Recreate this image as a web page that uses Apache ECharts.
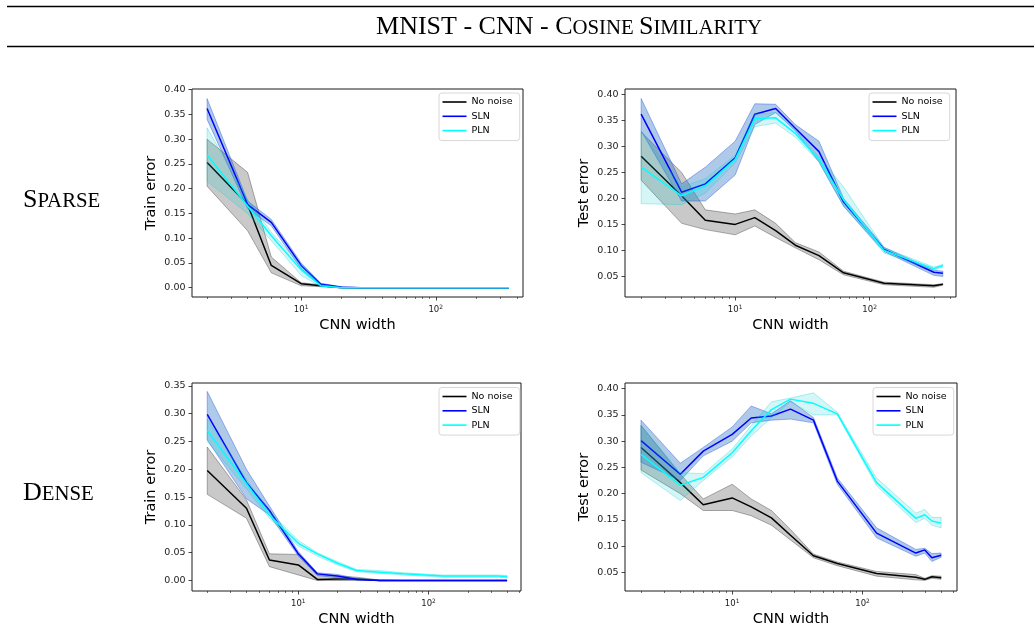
<!DOCTYPE html>
<html>
<head>
<meta charset="utf-8">
<script src="https://cdn.jsdelivr.net/npm/echarts@6/dist/echarts.min.js"></script>
<style>
  html, body { margin: 0; padding: 0; background: #fff; }
  #chart { width: 1034px; height: 643px; }
</style>
</head>
<body>
<div id="chart"></div>
<script>
// ---- CNN widths (x values) ----
const widthsSparse = [2, 4, 6, 10, 14, 20, 28, 42, 64, 128, 300, 350];
const widthsDense  = [2, 4, 6, 10, 14, 20, 28, 42, 64, 128, 256, 300, 340, 400];

// ---- tick values ----
const xMajorTicks = [10, 100];
const xMinorTicks = [2, 3, 4, 5, 6, 7, 8, 9, 20, 30, 40, 50, 60, 70, 80, 90, 200, 300, 400, 500];
const yTicksTrainSparse = [0.00, 0.05, 0.10, 0.15, 0.20, 0.25, 0.30, 0.35, 0.40];
const yTicksTestSparse  = [0.05, 0.10, 0.15, 0.20, 0.25, 0.30, 0.35, 0.40];
const yTicksTrainDense  = [0.00, 0.05, 0.10, 0.15, 0.20, 0.25, 0.30, 0.35];
const yTicksTestDense   = [0.05, 0.10, 0.15, 0.20, 0.25, 0.30, 0.35, 0.40];

// ---- Sparse / train error ----
const trainSparseNone   = [0.253, 0.168, 0.045, 0.008, 0.004, 0.000, 0, 0, 0, 0, 0, 0];
const trainSparseNoneLo = [0.205, 0.115, 0.030, 0.004, 0.002, 0.000, 0, 0, 0, 0, 0, 0];
const trainSparseNoneHi = [0.300, 0.233, 0.062, 0.010, 0.006, 0.001, 0, 0, 0, 0, 0, 0];
const trainSparseSln    = [0.362, 0.168, 0.132, 0.045, 0.007, 0.001, 0, 0, 0, 0, 0, 0];
const trainSparseSlnLo  = [0.340, 0.160, 0.125, 0.038, 0.004, 0.000, 0, 0, 0, 0, 0, 0];
const trainSparseSlnHi  = [0.382, 0.175, 0.138, 0.050, 0.009, 0.002, 0, 0, 0, 0, 0, 0];
const trainSparsePln    = [0.268, 0.165, 0.105, 0.036, 0.004, 0.000, 0, 0, 0, 0, 0, 0];
const trainSparsePlnLo  = [0.215, 0.150, 0.095, 0.025, 0.002, 0.000, 0, 0, 0, 0, 0, 0];
const trainSparsePlnHi  = [0.323, 0.178, 0.112, 0.045, 0.006, 0.001, 0, 0, 0, 0, 0, 0];

// ---- Sparse / test error ----
const testSparseNone   = [0.281, 0.205, 0.158, 0.150, 0.163, 0.138, 0.110, 0.090, 0.057, 0.037, 0.032, 0.035];
const testSparseNoneLo = [0.235, 0.152, 0.140, 0.130, 0.147, 0.125, 0.105, 0.082, 0.053, 0.034, 0.029, 0.033];
const testSparseNoneHi = [0.328, 0.250, 0.178, 0.170, 0.178, 0.152, 0.115, 0.097, 0.060, 0.039, 0.034, 0.036];
const testSparseSln    = [0.362, 0.212, 0.228, 0.278, 0.362, 0.373, 0.335, 0.290, 0.193, 0.102, 0.058, 0.056];
const testSparseSlnLo  = [0.330, 0.195, 0.195, 0.245, 0.342, 0.365, 0.330, 0.270, 0.185, 0.098, 0.052, 0.050];
const testSparseSlnHi  = [0.392, 0.228, 0.260, 0.310, 0.382, 0.381, 0.342, 0.310, 0.200, 0.106, 0.062, 0.060];
const testSparsePln    = [0.260, 0.205, 0.224, 0.275, 0.353, 0.355, 0.325, 0.275, 0.197, 0.100, 0.065, 0.071];
const testSparsePlnLo  = [0.190, 0.188, 0.210, 0.268, 0.338, 0.345, 0.318, 0.270, 0.185, 0.095, 0.062, 0.068];
const testSparsePlnHi  = [0.330, 0.222, 0.238, 0.283, 0.362, 0.365, 0.332, 0.280, 0.222, 0.105, 0.068, 0.073];

// ---- Dense / train error ----
const trainDenseNone   = [0.198, 0.130, 0.037, 0.028, 0.002, 0.003, 0.003, 0.000, 0, 0, 0, 0, 0, 0];
const trainDenseNoneLo = [0.155, 0.112, 0.025, 0.010, 0.000, 0.000, 0.000, 0.000, 0, 0, 0, 0, 0, 0];
const trainDenseNoneHi = [0.240, 0.145, 0.048, 0.047, 0.012, 0.008, 0.006, 0.001, 0, 0, 0, 0, 0, 0];
const trainDenseSln    = [0.299, 0.176, 0.126, 0.048, 0.012, 0.008, 0.002, 0.000, 0, 0, 0, 0, 0, 0];
const trainDenseSlnLo  = [0.253, 0.147, 0.118, 0.044, 0.009, 0.005, 0.001, 0.000, 0, 0, 0, 0, 0, 0];
const trainDenseSlnHi  = [0.340, 0.200, 0.134, 0.052, 0.014, 0.011, 0.004, 0.001, 0, 0, 0, 0, 0, 0];
const trainDensePln    = [0.270, 0.174, 0.118, 0.067, 0.048, 0.031, 0.018, 0.015, 0.012, 0.008, 0.008, 0.008, 0.008, 0.007];
const trainDensePlnLo  = [0.250, 0.165, 0.112, 0.062, 0.044, 0.028, 0.016, 0.013, 0.010, 0.006, 0.006, 0.006, 0.006, 0.005];
const trainDensePlnHi  = [0.290, 0.182, 0.124, 0.072, 0.050, 0.034, 0.020, 0.018, 0.014, 0.010, 0.010, 0.010, 0.010, 0.009];

// ---- Dense / test error ----
const testDenseNone   = [0.288, 0.221, 0.179, 0.192, 0.175, 0.154, 0.121, 0.082, 0.067, 0.048, 0.041, 0.037, 0.042, 0.040];
const testDenseNoneLo = [0.245, 0.200, 0.168, 0.168, 0.158, 0.140, 0.112, 0.078, 0.063, 0.043, 0.036, 0.035, 0.039, 0.037];
const testDenseNoneHi = [0.330, 0.237, 0.190, 0.218, 0.190, 0.168, 0.132, 0.085, 0.070, 0.052, 0.046, 0.039, 0.044, 0.043];
const testDenseSln    = [0.301, 0.237, 0.281, 0.313, 0.344, 0.348, 0.361, 0.340, 0.224, 0.125, 0.087, 0.093, 0.078, 0.083];
const testDenseSlnLo  = [0.260, 0.225, 0.272, 0.300, 0.335, 0.340, 0.342, 0.335, 0.218, 0.116, 0.081, 0.087, 0.071, 0.079];
const testDenseSlnHi  = [0.340, 0.258, 0.288, 0.327, 0.367, 0.352, 0.377, 0.345, 0.230, 0.135, 0.094, 0.096, 0.086, 0.087];
const testDensePln    = [0.275, 0.216, 0.231, 0.278, 0.320, 0.360, 0.380, 0.372, 0.352, 0.221, 0.153, 0.160, 0.148, 0.144];
const testDensePlnLo  = [0.240, 0.187, 0.225, 0.270, 0.310, 0.345, 0.375, 0.350, 0.350, 0.215, 0.145, 0.153, 0.140, 0.135];
const testDensePlnHi  = [0.330, 0.240, 0.238, 0.285, 0.330, 0.375, 0.382, 0.392, 0.355, 0.230, 0.163, 0.170, 0.155, 0.155];

// ---- styling per method ----
const methods = [
  { key: 'none', name: 'No noise', color: '#000000', edge: 'rgba(0,0,0,0.38)',     fill: 'rgba(0,0,0,0.21)' },
  { key: 'sln',  name: 'SLN',      color: '#0000ff', edge: 'rgba(40,90,225,0.55)', fill: 'rgba(45,115,195,0.38)' },
  { key: 'pln',  name: 'PLN',      color: '#00ffff', edge: 'rgba(0,205,215,0.38)', fill: 'rgba(0,200,210,0.17)' }
];

const panels = [
  { grid: { left: 192, top: 89, width: 331, height: 208 }, xr: [0.189, 2.648], yr: [-0.0188, 0.4014],
    yTicks: yTicksTrainSparse, yName: 'Train error', xs: widthsSparse, legend: { left: 439, top: 93 },
    series: { none: [trainSparseNone, trainSparseNoneLo, trainSparseNoneHi],
              sln:  [trainSparseSln,  trainSparseSlnLo,  trainSparseSlnHi],
              pln:  [trainSparsePln,  trainSparsePlnLo,  trainSparsePlnHi] } },
  { grid: { left: 625, top: 89, width: 331, height: 208 }, xr: [0.181, 2.642], yr: [0.0104, 0.4104],
    yTicks: yTicksTestSparse, yName: 'Test error', xs: widthsSparse, legend: { left: 869, top: 93 },
    series: { none: [testSparseNone, testSparseNoneLo, testSparseNoneHi],
              sln:  [testSparseSln,  testSparseSlnLo,  testSparseSlnHi],
              pln:  [testSparsePln,  testSparsePlnLo,  testSparsePlnHi] } },
  { grid: { left: 192, top: 383, width: 329, height: 208 }, xr: [0.184, 2.709], yr: [-0.0188, 0.3552],
    yTicks: yTicksTrainDense, yName: 'Train error', xs: widthsDense, legend: { left: 439, top: 387.5 },
    series: { none: [trainDenseNone, trainDenseNoneLo, trainDenseNoneHi],
              sln:  [trainDenseSln,  trainDenseSlnLo,  trainDenseSlnHi],
              pln:  [trainDensePln,  trainDensePlnLo,  trainDensePlnHi] } },
  { grid: { left: 625, top: 383, width: 332, height: 208 }, xr: [0.178, 2.724], yr: [0.0148, 0.4107],
    yTicks: yTicksTestDense, yName: 'Test error', xs: widthsDense, legend: { left: 873, top: 387.5 },
    series: { none: [testDenseNone, testDenseNoneLo, testDenseNoneHi],
              sln:  [testDenseSln,  testDenseSlnLo,  testDenseSlnHi],
              pln:  [testDensePln,  testDensePlnLo,  testDensePlnHi] } }
];

const AXIS_FONT = 'DejaVu Sans';
const SERIF = 'Liberation Serif';
const INK = '#1a1a1a';

// Spread band: one closed polygon (upper edge forward, lower edge back) in data coordinates
function bandRenderer(xs, lo, hi, fill, edge) {
  return function (params, api) {
    if (params.dataIndexInside !== 0) return null;
    const pts = [];
    for (let i = 0; i < xs.length; i++) pts.push(api.coord([xs[i], hi[i]]));
    for (let i = xs.length - 1; i >= 0; i--) pts.push(api.coord([xs[i], lo[i]]));
    return {
      type: 'polygon',
      shape: { points: pts },
      style: { fill: fill, stroke: edge, lineWidth: 0.8 },
      silent: true
    };
  };
}

const grids = [], xAxes = [], yAxes = [], series = [], legends = [];

panels.forEach(function (p, g) {
  grids.push(Object.assign({ show: true, borderColor: INK, borderWidth: 1, backgroundColor: 'transparent' }, p.grid));

  // data axis (logarithmic)
  xAxes.push({ type: 'log', logBase: 10, gridIndex: g, min: Math.pow(10, p.xr[0]), max: Math.pow(10, p.xr[1]), show: false });
  // decade ticks and labels on the same scale, expressed in exponents
  xAxes.push({
    type: 'value', gridIndex: g, position: 'bottom', min: p.xr[0], max: p.xr[1],
    axisLine: { show: false }, splitLine: { show: false },
    axisTick: { show: true, customValues: xMajorTicks.map(Math.log10), length: 3.5, lineStyle: { color: INK, width: 0.8 } },
    axisLabel: {
      customValues: xMajorTicks.map(Math.log10), margin: 7,
      formatter: function (v) { return '{b|10}{s|' + Math.round(v) + '}'; },
      rich: {
        b: { fontSize: 8.5, fontFamily: AXIS_FONT, color: INK },
        s: { fontSize: 6, fontFamily: AXIS_FONT, color: INK, padding: [0, 0, 6, 0] }
      }
    },
    name: 'CNN width', nameLocation: 'middle', nameGap: 20,
    nameTextStyle: { fontSize: 14.5, fontFamily: AXIS_FONT, color: '#000', lineHeight: 17 }
  });
  // minor ticks
  xAxes.push({
    type: 'value', gridIndex: g, position: 'bottom', min: p.xr[0], max: p.xr[1],
    axisLine: { show: false }, splitLine: { show: false }, axisLabel: { show: false },
    axisTick: { show: true, customValues: xMinorTicks.filter(function (t) { const l = Math.log10(t); return l > p.xr[0] && l < p.xr[1]; }).map(Math.log10),
                length: 2, lineStyle: { color: INK, width: 0.6 } }
  });

  yAxes.push({
    type: 'value', gridIndex: g, min: p.yr[0], max: p.yr[1],
    axisLine: { show: false }, splitLine: { show: false },
    axisTick: { show: true, customValues: p.yTicks, length: 3.5, lineStyle: { color: INK, width: 0.8 } },
    axisLabel: { customValues: p.yTicks, margin: 6.5, fontSize: 9.5, fontFamily: AXIS_FONT, color: INK,
                 formatter: function (v) { return v.toFixed(2); } },
    name: p.yName, nameLocation: 'middle', nameGap: 32,
    nameTextStyle: { fontSize: 14.5, fontFamily: AXIS_FONT, color: '#000', lineHeight: 17 }
  });

  methods.forEach(function (m, k) {
    const vals = p.series[m.key][0], lo = p.series[m.key][1], hi = p.series[m.key][2];
    // spread band
    series.push({
      type: 'custom', name: m.key + '-band-' + g, xAxisIndex: g * 3, yAxisIndex: g,
      silent: true, animation: false, clip: true, z: 2 + k * 2,
      renderItem: bandRenderer(p.xs, lo, hi, m.fill, m.edge),
      data: p.xs.map(function (x, i) { return [x, lo[i], hi[i]]; }),
      encode: { x: 0, y: [1, 2] }
    });
    // mean curve
    series.push({
      type: 'line', name: m.name, xAxisIndex: g * 3, yAxisIndex: g,
      symbol: 'none', silent: true, animation: false, z: 3 + k * 2,
      color: m.color, itemStyle: { color: m.color },
      lineStyle: { color: m.color, width: 1.5 },
      data: p.xs.map(function (x, i) { return [x, vals[i]]; })
    });
  });

  legends.push({
    data: methods.map(function (m) { return m.name; }),
    orient: 'vertical', left: p.legend.left, top: p.legend.top,
    icon: 'rect', itemWidth: 24, itemHeight: 1.6, itemGap: 4.3,
    selectedMode: false,
    textStyle: { fontSize: 9.5, fontFamily: AXIS_FONT, color: '#000', lineHeight: 10 },
    backgroundColor: 'rgba(255,255,255,0.8)', borderColor: '#d8d8d8', borderWidth: 1, borderRadius: 3,
    padding: [4, 7, 5, 3.5]
  });
});

const capsRich = {
  a: { fontSize: 26, fontFamily: SERIF, color: '#000' },
  b: { fontSize: 20.8, fontFamily: SERIF, color: '#000', padding: [3.6, 0, 0, 0] }
};

const chart = echarts.init(document.getElementById('chart'), null, { renderer: 'canvas' });
chart.setOption({
  animation: false,
  backgroundColor: '#fff',
  grid: grids,
  xAxis: xAxes,
  yAxis: yAxes,
  legend: legends,
  series: series,
  graphic: [
    { type: 'line', shape: { x1: 7, y1: 6.5, x2: 1034, y2: 6.5 }, style: { stroke: '#000', lineWidth: 1.5 } },
    { type: 'line', shape: { x1: 7, y1: 46.5, x2: 1034, y2: 46.5 }, style: { stroke: '#000', lineWidth: 1.5 } },
    { type: 'text', x: 569, y: 27, style: { text: '{a|MNIST - CNN - C}{b|OSINE }{a|S}{b|IMILARITY}', rich: capsRich, align: 'center', verticalAlign: 'middle' } },
    { type: 'text', x: 23, y: 200, style: { text: '{a|S}{b|PARSE}', rich: capsRich, align: 'left', verticalAlign: 'middle' } },
    { type: 'text', x: 23, y: 493, style: { text: '{a|D}{b|ENSE}', rich: capsRich, align: 'left', verticalAlign: 'middle' } }
  ]
});
</script>
</body>
</html>
